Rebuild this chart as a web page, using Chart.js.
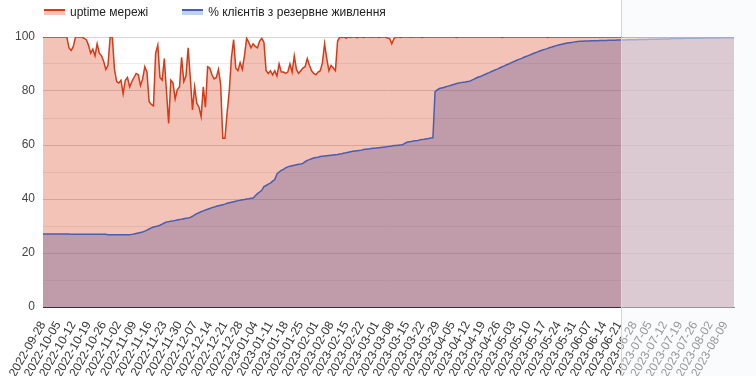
<!DOCTYPE html>
<html lang="uk">
<head>
  <meta charset="UTF-8">
  <title>uptime мережі</title>
  <script src="https://cdn.jsdelivr.net/npm/chart.js"></script>
  <style>
    body { margin: 0; background: #fff; }
    .wrap { position: relative; width: 756px; height: 376px; }
    .legend {
      position: absolute; left: 44px; top: 5px;
      display: flex; align-items: center;
      font: 12px "Liberation Sans", Arial, sans-serif; color: #222;
    }
    .legend span.sw { display: inline-block; width: 21px; height: 4px; margin-right: 5px; }
    .legend .item { display: flex; align-items: center; margin-right: 34px; }
  </style>
</head>
<body>
  <div class="wrap">
    <canvas id="chart" width="756" height="376"></canvas>
    <div class="legend">
      <div class="item"><span class="sw" style="border-top: 2px solid #dc3912; background: rgba(220,57,18,0.3)"></span>uptime мережі</div>
      <div class="item"><span class="sw" style="border-top: 2px solid #4a5db2; background: rgba(51,102,204,0.3)"></span>% клієнтів з резервне живлення</div>
    </div>
  </div>

  <script>
    /* Daily categories, first and last day. */
    const startDate = "2022-09-28"
    const dayCount = 320
    const labelEvery = 7
    const shadeStart = "2023-06-22"

    /* uptime мережі, one value per day. */
    const uptime = [
      100,100,100,100,100,100,100,100,100,100,
      100,100,96,95,96.5,100,100,100,100,99.5,
      99,97,94,95.5,93,97.5,94,93,91,88,
      89.5,100,100,88,83.5,83,84,79,84,85,
      81.5,83.5,85,86.5,86,82,84.5,89,87,76,
      75,74.5,94,97,85,84,92,80,68,84,
      83,77,80.5,81.5,92.5,83.5,85.5,96,85,73,
      81.5,75.5,74,70.5,81.5,74,89,88.5,86,84.5,
      85,88,82.5,62.5,62.5,72,80,92.5,99,88.5,
      87.5,90.5,88,93,99.5,98,96,97.5,96.5,96,
      98.5,99.5,98,87.5,86.5,87.5,86,87.5,85.5,90,
      87,87,86.5,87,90,87,93,88,86.5,87.5,
      88.5,89,92,89.5,87.5,86.5,86,87,87.5,90.5,
      97.5,92,87.5,89.5,88.5,87.5,98.5,100,99.8,100,
      99.6,100,99.8,100,100,99.7,100,100,99.8,100,
      100,100,99.9,100,100,99.8,100,100,100,99.6,
      99.5,97.5,99.4,100,100,99.8,100,100,100,100,
      99.9,100,100,100,100,99.8,100,100,100,100,
      100,100,100,100,100,100,100,100,100,100,
      100,99.8,100,100,100,100,100,100,100,100,
      100,100,100,100,100,100,100,100,100,100,
      100,100,99.8,100,100,100,100,100,100,100,
      100,100,100,100,100,100,100,100,100,100,
      100,100,100,99.8,100,100,100,100,100,100,
      100,100,100,100,100,100,100,100,100,100,
      100,100,100,100,100,100,100,100,100,100,
      100,100,100,100,100,100,100,100,100,100,
      100,100,100,100,100,100,100,100,100,100,
      100,100,100,100,100,100,100,100,100,100,
      100,100,100,100,100,100,100,100,100,100,
      100,100,100,100,100,100,100,100,100,100,
      100,100,100,100,100,100,100,100,100,100
    ]

    /* % клієнтів з резервне живлення, one value per day. */
    const backup = [
      27,27,27,27,27,27,27,27,27,27,
      27,27,27,26.9,26.9,26.9,26.9,26.9,26.9,26.9,
      26.9,26.9,26.9,26.9,26.9,26.9,26.9,26.9,26.9,26.9,
      26.8,26.8,26.8,26.8,26.8,26.8,26.8,26.8,26.8,26.8,
      26.8,26.9,27.0,27.2,27.4,27.6,27.8,28.1,28.5,28.9,
      29.3,29.6,29.8,30.0,30.3,30.7,31.1,31.5,31.6,31.8,
      31.9,32.0,32.2,32.4,32.5,32.7,32.9,33.0,33.2,33.6,
      34.1,34.6,34.9,35.3,35.6,35.9,36.2,36.5,36.8,37.0,
      37.3,37.5,37.7,37.9,38.1,38.4,38.6,38.8,39.0,39.2,
      39.4,39.5,39.7,39.8,40.0,40.1,40.3,40.4,41.2,42.0,
      42.6,43.2,44.6,45.0,45.5,45.9,46.6,47.2,49.3,50.0,
      50.6,51.0,51.5,51.9,52.1,52.3,52.5,52.7,52.9,53.0,
      53.2,53.8,54.3,54.6,54.9,55.2,55.4,55.5,55.7,55.8,
      55.9,56.0,56.1,56.2,56.3,56.4,56.5,56.7,56.8,57.0,
      57.1,57.3,57.5,57.7,57.8,57.9,58.0,58.1,58.3,58.4,
      58.5,58.6,58.8,58.8,58.9,59.0,59.1,59.2,59.3,59.4,
      59.5,59.6,59.8,59.8,59.9,60.0,60.1,60.6,61.0,61.2,
      61.3,61.5,61.6,61.7,61.9,62.0,62.1,62.3,62.4,62.6,
      62.7,79.8,80.4,80.9,81.1,81.3,81.6,81.8,82.0,82.3,
      82.5,82.8,83.0,83.1,83.2,83.3,83.5,83.6,84.0,84.4,
      84.8,85.2,85.4,85.8,86.1,86.5,86.8,87.2,87.5,87.9,
      88.2,88.6,89.0,89.3,89.7,90.0,90.4,90.8,91.1,91.5,
      91.8,92.1,92.5,92.8,93.1,93.4,93.8,94.1,94.4,94.7,
      95.0,95.3,95.5,95.8,96.1,96.3,96.6,96.8,97.0,97.2,
      97.4,97.6,97.8,97.9,98.0,98.1,98.2,98.3,98.4,98.4,
      98.5,98.5,98.5,98.6,98.6,98.6,98.6,98.7,98.7,98.7,
      98.7,98.8,98.8,98.8,98.8,98.9,98.9,98.9,98.9,98.9,
      99.0,99.0,99.0,99.0,99.0,99.1,99.1,99.1,99.1,99.1,
      99.2,99.2,99.2,99.2,99.2,99.3,99.3,99.3,99.3,99.3,
      99.4,99.4,99.4,99.4,99.4,99.4,99.5,99.5,99.5,99.5,
      99.5,99.5,99.5,99.5,99.5,99.6,99.6,99.6,99.6,99.6,
      99.6,99.6,99.6,99.7,99.7,99.7,99.7,99.7,99.7,99.7
    ]

    /* Y axis: 0..100, labels every 20, lines every 10. */
    const yMin = 0
    const yMax = 100
    const yStep = 10
    const yLabelStep = 20

    /* Build day labels (calendar days from startDate). */
    const dates = []
    const t0 = Date.parse(startDate + "T00:00:00Z")
    for (let i = 0; i < dayCount; i++) {
      dates.push(new Date(t0 + i * 86400000).toISOString().slice(0, 10))
    }

    const font = { family: "'Liberation Sans', Arial, sans-serif", size: 12 }

    /* Light veil over the right part, as in the screenshot. */
    const veil = {
      id: "veil",
      afterDraw(chart) {
        const { ctx, scales: { x } } = chart
        const x0 = Math.round(x.getPixelForValue(dates.indexOf(shadeStart))) + 0.5
        ctx.save()
        ctx.fillStyle = "rgba(246,247,250,0.5)"
        ctx.fillRect(x0, 0, chart.width - x0, chart.height)
        ctx.strokeStyle = "#d6d6d6"
        ctx.lineWidth = 1
        ctx.beginPath()
        ctx.moveTo(x0, 0)
        ctx.lineTo(x0, chart.height)
        ctx.stroke()
        ctx.restore()
      }
    }

    const ctx = document.getElementById("chart").getContext("2d")
    const myChart = new Chart(ctx, {
      type: "line",
      data: {
        labels: dates,
        datasets: [{
          label: "uptime мережі",
          data: uptime,
          borderColor: "#d63a17",
          backgroundColor: "rgba(220,57,18,0.3)",
          borderWidth: 1.5,
          pointRadius: 0,
          fill: "origin"
        }, {
          label: "% клієнтів з резервне живлення",
          data: backup,
          borderColor: "#4a5db2",
          backgroundColor: "rgba(51,102,204,0.36)",
          borderWidth: 1.5,
          pointRadius: 0,
          fill: "origin"
        }]
      },
      options: {
        responsive: false,
        animation: false,
        layout: { padding: { top: 37, right: 22, left: 0, bottom: 0 } },
        plugins: {
          legend: { display: false },
          tooltip: { enabled: false },
          filler: { drawTime: "beforeDatasetsDraw" }
        },
        scales: {
          x: {
            grid: { display: false },
            border: { display: true, color: "#333", width: 1 },
            ticks: {
              autoSkip: false,
              minRotation: 60,
              maxRotation: 60,
              padding: 4,
              color: "#333",
              font: font,
              callback: (v, i) => i % labelEvery === 0 ? dates[i] : ""
            },
            afterFit: s => { s.height = 69 }
          },
          y: {
            min: yMin,
            max: yMax,
            border: { display: false },
            grid: {
              drawTicks: false,
              color: c => c.tick.value === 0 ? "#333" : (c.tick.value % yLabelStep === 0 ? "#d4d4d4" : "#ebebeb")
            },
            ticks: {
              stepSize: yStep,
              padding: 8,
              color: "#444",
              font: font,
              callback: v => v % yLabelStep === 0 ? v : ""
            },
            afterFit: s => { s.width = 43 }
          }
        }
      },
      plugins: [veil]
    })
  </script>
</body>
</html>
